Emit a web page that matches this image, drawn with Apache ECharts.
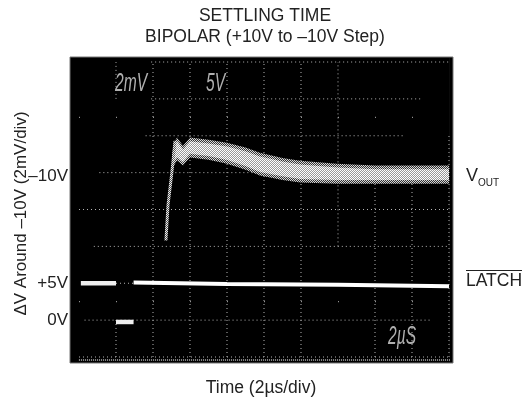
<!DOCTYPE html>
<html><head><meta charset="utf-8">
<style>html,body{margin:0;padding:0;background:#fff}#c{width:529px;height:402px}</style>
<script src="https://cdn.jsdelivr.net/npm/echarts@6/dist/echarts.min.js"></script>
</head><body><div id="c"></div>
<script>
// x in microseconds, y in scope divisions from the bottom graticule line
const bandTime  = [5.03,5.19,5.3,5.62,6.0,7.0,8.0,9.0,9.78,11.0,11.95,13.95,16.0,18.0,20.0];
const bandUpper = [5.5,5.86,5.95,5.73,5.95,5.89,5.81,5.68,5.54,5.4,5.32,5.24,5.19,5.19,5.19];
const bandLower = [5.1,5.24,5.32,5.19,5.41,5.35,5.24,5.08,4.92,4.8,4.73,4.70,4.70,4.70,4.70];
const riseTime  = [4.7,4.81,5.03,5.19];
const riseDiv   = [3.16,4.11,5.05,5.86];
const latchHighA = [[0.1,2.0],[2.0,2.0]];
const latchLow   = [[2.0,0.95],[2.95,0.95]];
const latchHighB = [[2.95,2.02],[8,1.98],[14,1.96],[20,1.92]];
const horizontalRules = [[3.9,20,8],[3.9,18.6,7],[3.6,17.5,6],[1.1,20,5],[0,20,4],[0.8,20,3],[2,3,2],[0.3,19,1],[0,20,0]];
const verticalRules   = [[2,0,1],[2,7,8],[4,0,8],[6,0,8],[8,0,8],[10,0,8],[12,0,8],[14,3,8],[16,0,5],[18,0,5],[20,0,6]];
const sparseRows = [6.5,1.5];
const frameEdges = [[-0.32,-0.12,-0.32,8.1],[-0.32,-0.08,20.1,-0.08],[20.1,-0.12,20.1,8.1]];
const yTickDivs  = [1,2,5];
const yTickTexts = ['0V','+5V','–10V'];
const FONT='"Liberation Sans",Arial,sans-serif';
function pattern(a,b){const c=document.createElement('canvas');c.width=c.height=2;const g=c.getContext('2d');
 g.fillStyle=b;g.fillRect(0,0,2,2);g.fillStyle=a;g.fillRect(0,0,1,1);g.fillRect(1,1,1,1);return {image:c,repeat:'repeat'};}
const pts=(xs,ys)=>xs.map((x,i)=>[x,ys[i]]);
const chart=echarts.init(document.getElementById('c'),null,{renderer:'canvas'});
const grey='#b4b4b4', ink='#222';
const line=(data,w,c,type,z)=>({type:'line',xAxisIndex:1,yAxisIndex:1,data,symbol:'none',silent:true,z:z||5,clip:false,connectNulls:false,
  lineStyle:{width:w,color:c,type:type||'solid',cap:'butt'}});
const segs=list=>list.flatMap(s=>[[s[0],s[1]],[s[2],s[3]],[null,null]]);
function band(inset,fill,z){return {type:'custom',xAxisIndex:1,yAxisIndex:1,silent:true,z,clip:false,
  data:bandTime.map((t,i)=>[t,bandUpper[i],bandLower[i]]),
  encode:{x:0,y:[1,2]},
  renderItem(p,api){ if(p.dataIndex!==0) return null;
    const up=bandTime.map((t,i)=>api.coord([t,bandUpper[i]-inset]));
    const lo=bandTime.map((t,i)=>api.coord([t,bandLower[i]+inset])).reverse();
    return {type:'polygon',shape:{points:up.concat(lo)},style:{fill}};
  }};}
const txt=(text,x,y,sx)=>({type:'text',x,y,scaleX:sx,z:20,style:{text,fontFamily:'"Liberation Sans",sans-serif',fontStyle:'italic',fontSize:26,fill:'#b0b0b0'}});
chart.setOption({
 animation:false,backgroundColor:'#fff',
 title:[
  {text:'SETTLING TIME',left:260,top:2,textAlign:'center',textStyle:{fontFamily:FONT,fontSize:17.5,fontWeight:'normal',color:ink}},
  {text:'BIPOLAR (+10V to –10V Step)',left:260,top:23,textAlign:'center',textStyle:{fontFamily:FONT,fontSize:17.5,fontWeight:'normal',color:ink}}
 ],
 grid:[
  {left:70,top:57,width:383,height:306,show:true,backgroundColor:'#000',borderColor:'#777',borderWidth:1,z:0,outerBoundsMode:'none'},
  {left:79,top:62,width:370,height:295,show:false,z:2,outerBoundsMode:'none'}
 ],
 xAxis:[
  {gridIndex:0,type:'value',min:0,max:1,show:false},
  {gridIndex:1,type:'value',min:0,max:20,interval:2,name:'Time (2µs/div)',nameLocation:'middle',nameGap:22,nameMoveOverlap:false,
   nameTextStyle:{fontFamily:FONT,fontSize:17.5,color:ink,padding:[0,6,0,0]},
   axisLine:{show:false},axisTick:{show:false},axisLabel:{show:false},splitLine:{show:false}}
 ],
 yAxis:[
  {gridIndex:0,type:'value',min:0,max:1,show:false},
  {gridIndex:1,type:'value',min:0,max:8,interval:1,name:'ΔV Around –10V (2mV/div)',nameLocation:'middle',nameGap:49,nameMoveOverlap:false,
   nameTextStyle:{fontFamily:FONT,fontSize:17,color:ink,padding:[0,8,0,0]},
   axisLine:{show:false},axisTick:{show:false},
   axisLabel:{margin:11,fontFamily:FONT,fontSize:17,color:ink,
     formatter:v=>{const i=yTickDivs.indexOf(v);if(i<0)return '';return v===5?'{low|'+yTickTexts[i]+'}':yTickTexts[i];},
     rich:{low:{fontFamily:FONT,fontSize:17,color:ink,padding:[8,0,0,0]}}},
   splitLine:{show:false}}
 ],
 series:[
  line(segs(horizontalRules.map(r=>[r[0],r[2],r[1],r[2]])),1,grey,[1,3],3),
  line(segs(verticalRules.map(r=>[r[0],r[1],r[0],r[2]])),1,grey,[1,3],3),
  line(segs(sparseRows.map(r=>[0,r,20,r])),1,grey,[1,36],3),
  line(segs(frameEdges),2,'#8a8a8a',[1,1],3),
  band(0,pattern('#d8d8d8','#333'),4),
  band(0.1,pattern('#fff','#999'),4),
  line(pts(riseTime,riseDiv),3,pattern('#eee','#555')),
  line(latchHighA,4.5,'#eee'),
  line(latchLow,4.5,'#eee'),
  line(latchHighB,4,'#fff')
 ],
 graphic:[
  txt('2mV',115,71,0.6), txt('5V',206,71,0.6), txt('2µS',388,324,0.6),
  {type:'text',x:466,y:167,style:{text:'V',fontFamily:FONT,fontSize:18,fill:ink}},
  {type:'text',x:478,y:178,style:{text:'OUT',fontFamily:FONT,fontSize:10,fill:ink}},
  {type:'text',x:466,y:272,style:{text:'LATCH',fontFamily:FONT,fontSize:17.5,fill:ink}},
  {type:'rect',shape:{x:466,y:270,width:56,height:1},style:{fill:ink}}
 ]
});
</script></body></html>
